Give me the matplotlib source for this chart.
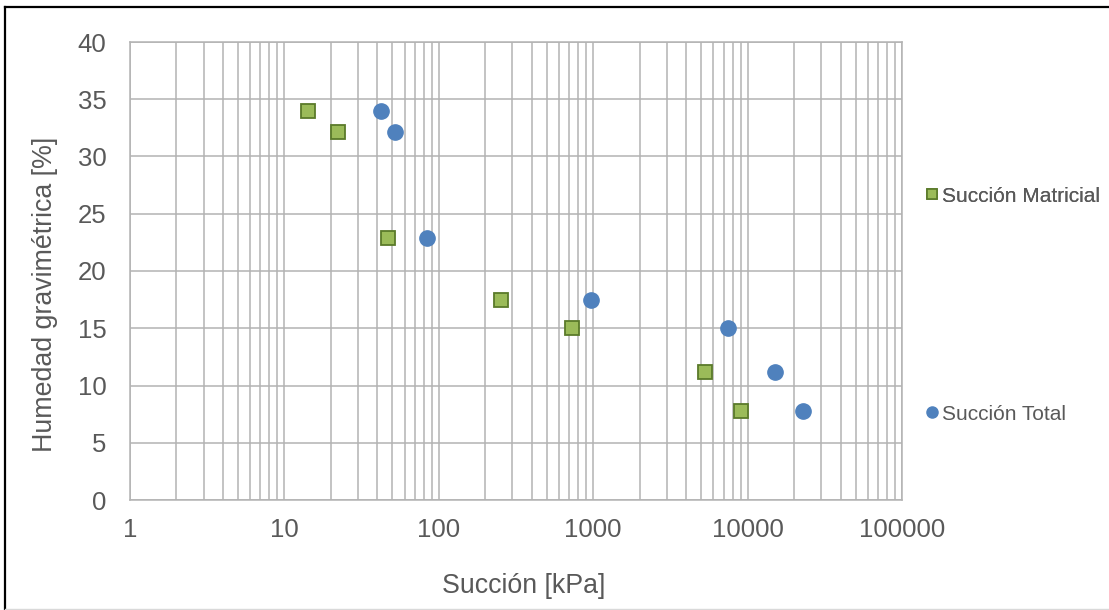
import matplotlib
matplotlib.use("Agg")
import matplotlib.pyplot as plt
from matplotlib.ticker import FixedLocator, LogLocator, NullFormatter, FixedFormatter
from matplotlib.lines import Line2D

plt.rcParams['font.family'] = ['Liberation Sans', 'DejaVu Sans']

# Succión matricial (kPa) vs humedad gravimétrica (%)
matric_suction = [14.2, 22.1, 46.6, 254, 733, 5320, 9100]
matric_moisture = [34.0, 32.1, 22.9, 17.5, 15.0, 11.2, 7.8]

# Succión total (kPa) vs humedad gravimétrica (%)
total_suction = [42, 51.8, 83.4, 973, 7490, 15070, 22900]
total_moisture = [34.0, 32.1, 22.9, 17.5, 15.0, 11.2, 7.8]

x_ticks = [1, 10, 100, 1000, 10000, 100000]
x_tick_labels = ["1", "10", "100", "1000", "10000", "100000"]
y_ticks = [0, 5, 10, 15, 20, 25, 30, 35, 40]

W, H = 1109, 610
fig = plt.figure(figsize=(W / 100, H / 100), dpi=100)
ax = fig.add_axes([130 / W, (H - 500) / H, (902 - 130) / W, (500 - 42) / H])

grid_color = "#b3b3b3"
text_color = "#595959"
green_face = "#9bbb59"
green_edge = "#5a7a2a"
blue = "#4f81bd"

ax.set_xscale("log")
ax.set_xlim(1, 100000)
ax.set_ylim(0, 40)

ax.xaxis.set_major_locator(FixedLocator(x_ticks))
ax.xaxis.set_major_formatter(FixedFormatter(x_tick_labels))
ax.xaxis.set_minor_locator(LogLocator(base=10, subs=range(2, 10), numticks=50))
ax.xaxis.set_minor_formatter(NullFormatter())
ax.yaxis.set_major_locator(FixedLocator(y_ticks))

ax.grid(True, which="major", axis="both", color=grid_color, linewidth=1.1)
ax.grid(True, which="minor", axis="x", color=grid_color, linewidth=1.1)
ax.set_axisbelow(True)
for sp in ax.spines.values():
    sp.set_color(grid_color)
    sp.set_linewidth(1.1)

ax.tick_params(which="both", length=0, labelsize=18.5, colors=text_color)
ax.tick_params(axis="x", pad=13)
ax.tick_params(axis="y", pad=17)

ax.plot(matric_suction, matric_moisture, linestyle="none", marker="s",
        markersize=10, markerfacecolor=green_face, markeredgecolor=green_edge,
        markeredgewidth=1.3, zorder=3)
ax.plot(total_suction, total_moisture, linestyle="none", marker="o",
        markersize=11, markerfacecolor=blue, markeredgecolor=blue, zorder=3)

ax.set_xlabel("Succión [kPa]", fontsize=19.3, color=text_color, labelpad=22)
ax.set_ylabel("Humedad gravimétrica [%]", fontsize=19.3, color=text_color, labelpad=14)
ax.xaxis.label.set_x(0.51)
ax.yaxis.label.set_y(0.45)

h_matric = Line2D([], [], linestyle="none", marker="s", markersize=7,
                  markerfacecolor=green_face, markeredgecolor=green_edge,
                  markeredgewidth=1.2)
h_total = Line2D([], [], linestyle="none", marker="o", markersize=8,
                 markerfacecolor=blue, markeredgecolor=blue)

leg1 = fig.legend([h_matric], ["Succión Matricial"], loc="center left",
                  bbox_to_anchor=(915 / W, 1 - 196 / H), frameon=False,
                  fontsize=15, handlelength=0.6, handletextpad=0.2,
                  borderpad=0, labelcolor=text_color)
leg2 = fig.legend([h_total], ["Succión Total"], loc="center left",
                  bbox_to_anchor=(915 / W, 1 - 414 / H), frameon=False,
                  fontsize=15, handlelength=0.6, handletextpad=0.2,
                  borderpad=0, labelcolor=text_color)
fig.add_artist(leg1)

# Outer chart frame
fig.add_artist(Line2D([5 / W, 5 / W], [1 - 7 / H, 1 - 609 / H],
                      transform=fig.transFigure, color="black", linewidth=1.6))
fig.add_artist(Line2D([5 / W, 1], [1 - 7 / H, 1 - 7 / H],
                      transform=fig.transFigure, color="black", linewidth=1.6))
fig.add_artist(Line2D([5 / W, 1], [1 - 609 / H, 1 - 609 / H],
                      transform=fig.transFigure, color="#d9d9d9", linewidth=1.0))

fig.savefig("out.png", dpi=100, facecolor="white")
